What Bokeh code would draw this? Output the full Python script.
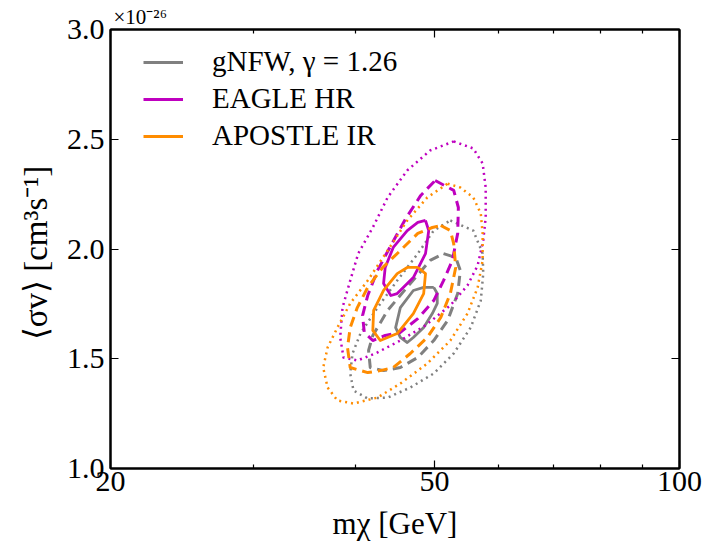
from bokeh.plotting import figure
from bokeh.models import (FixedTicker, PrintfTickFormatter, CustomJSTickFormatter,
                          LinearAxis, LogAxis, Legend, LegendItem, Range1d)
from bokeh.embed import file_html
from bokeh.resources import INLINE

# ---------------- data ----------------
x_major = [20, 50, 100]
x_minor = [30, 40, 60, 70, 80, 90]
y_major = [1.0, 1.5, 2.0, 2.5, 3.0]

series_names = ["gNFW, γ = 1.26", "EAGLE HR", "APOSTLE IR"]
series_colors = ["#808080", "#bf00bf", "#ff8c00"]

# 1 sigma (solid)
gnfw_sol_m = [49.9, 50.4, 50.4, 49.7, 48.5, 47.1, 46.3, 45.4, 44.8, 45.4, 47.1, 48.5]
gnfw_sol_sv = [1.825, 1.797, 1.752, 1.706, 1.642, 1.597, 1.574, 1.597, 1.642, 1.733, 1.811, 1.825]
eagle_sol_m = [48.75, 49.2, 48.75, 47.1, 45.0, 44.2, 43.3, 43.5, 44.5, 46.3, 47.7]
eagle_sol_sv = [2.13, 2.084, 1.979, 1.87, 1.797, 1.788, 1.843, 1.916, 2.007, 2.084, 2.121]
apostle_sol_m = [47.7, 48.75, 48.5, 47.1, 45.0, 42.9, 42.0, 42.1, 43.3, 45.0, 46.3]
apostle_sol_sv = [1.916, 1.888, 1.797, 1.706, 1.615, 1.583, 1.629, 1.72, 1.811, 1.888, 1.916]

# 2 sigma (dashed)
gnfw_dash_m = [51.3, 53.1, 53.8, 53.4, 51.9, 49.9, 47.7, 45.4, 43.3, 41.7, 41.5, 42.0, 43.8, 46.7, 49.4]
gnfw_dash_sv = [1.979, 1.961, 1.902, 1.797, 1.674, 1.583, 1.506, 1.46, 1.446, 1.46, 1.538, 1.606, 1.72, 1.843, 1.948]
eagle_dash_m = [50.1, 52.8, 53.5, 53.4, 52.6, 51.3, 49.9, 47.7, 45.4, 43.5, 42.0, 41.0, 40.8, 41.4, 42.56, 44.2, 46.1, 48.1]
eagle_dash_sv = [2.312, 2.267, 2.189, 2.071, 1.948, 1.856, 1.765, 1.683, 1.62, 1.606, 1.583, 1.62, 1.697, 1.788, 1.902, 2.016, 2.139, 2.244]
apostle_dash_m = [50.9, 52.3, 52.8, 53.1, 52.3, 50.9, 49.0, 46.7, 44.5, 42.9, 41.4, 39.4, 39.1, 39.4, 40.2, 41.4, 43.2, 45.4, 47.7, 49.7]
apostle_dash_sv = [2.107, 2.084, 2.025, 1.916, 1.797, 1.688, 1.597, 1.524, 1.46, 1.446, 1.437, 1.46, 1.551, 1.642, 1.733, 1.825, 1.916, 1.993, 2.071, 2.098]

# 3 sigma (dotted)
gnfw_dot_m = [52.3, 55.8, 57.3, 57.4, 57.0, 55.4, 52.8, 49.9, 46.7, 43.8, 41.4, 39.77, 39.4, 39.66, 40.56, 42.56, 45.0, 47.7, 49.9]
gnfw_dot_sv = [2.13, 2.084, 1.979, 1.888, 1.765, 1.642, 1.524, 1.433, 1.369, 1.323, 1.319, 1.355, 1.433, 1.524, 1.615, 1.733, 1.856, 1.979, 2.084]
eagle_dot_m = [52.8, 55.8, 57.3, 57.8, 57.8, 57.4, 56.5, 54.9, 52.3, 48.75, 45.4, 42.3, 40.2, 38.66, 38.3, 38.55, 39.4, 40.3, 42.0, 43.8, 46.3, 49.4]
eagle_dot_sv = [2.49, 2.458, 2.39, 2.28, 2.144, 2.039, 1.925, 1.834, 1.743, 1.652, 1.583, 1.524, 1.492, 1.506, 1.597, 1.733, 1.856, 1.979, 2.098, 2.235, 2.358, 2.449]
apostle_dot_m = [51.9, 53.8, 55.8, 57.0, 57.3, 57.3, 56.5, 54.9, 52.3, 49.0, 45.4, 42.56, 39.77, 38.0, 36.96, 36.5, 36.96, 38.0, 39.4, 41.4, 43.8, 46.3, 49.0]
apostle_dot_sv = [2.298, 2.28, 2.235, 2.162, 2.071, 1.948, 1.825, 1.706, 1.583, 1.478, 1.387, 1.323, 1.296, 1.31, 1.369, 1.46, 1.551, 1.642, 1.752, 1.856, 1.993, 2.13, 2.235]

x_label = "mχ [GeV]"
y_label = "⟨σv⟩  [cm³s⁻¹]"
offset_label = "×10⁻²⁶"

# ---------------- figure ----------------
SERIF = "Liberation Serif"

p = figure(width=703, height=547, x_axis_type="log",
           x_range=Range1d(20, 100), y_range=Range1d(1.0, 3.0),
           output_backend="svg", toolbar_location=None,
           min_border_left=110, min_border_right=24,
           min_border_top=29, min_border_bottom=79)
p.grid.visible = False
p.outline_line_color = "black"
p.outline_line_width = 2
p.background_fill_color = "white"
p.border_fill_color = "white"

# offset text (x10^-26) above the top-left corner
p.title.text = offset_label
p.title.align = "left"
p.title.text_font = SERIF
p.title.text_font_size = "21px"
p.title.text_font_style = "normal"
p.title.text_color = "black"
p.title.offset = 3
p.title.standoff = 2

def style_axis(ax, ticks, minor, fmt, show_labels, standoff):
    ax.ticker = FixedTicker(ticks=ticks, minor_ticks=minor)
    ax.axis_line_width = 2
    ax.axis_line_color = "black"
    ax.major_tick_in = 8
    ax.major_tick_out = 0
    ax.minor_tick_in = 4
    ax.minor_tick_out = 0
    ax.major_tick_line_width = 1.2
    ax.minor_tick_line_width = 1.2
    ax.major_label_text_font = SERIF
    ax.major_label_text_color = "black"
    if show_labels:
        ax.formatter = PrintfTickFormatter(format=fmt)
        ax.major_label_text_font_size = "30px"
        ax.major_label_standoff = standoff
    else:
        ax.formatter = CustomJSTickFormatter(code="return '';")
        ax.major_label_text_font_size = "1px"
        ax.major_label_standoff = 0

style_axis(p.xaxis[0], x_major, x_minor, "%d", True, 3)
style_axis(p.yaxis[0], y_major, [], "%.1f", True, 6)

p.xaxis[0].axis_label = x_label
p.yaxis[0].axis_label = y_label
for ax, so, fs in ((p.xaxis[0], 12, "31px"), (p.yaxis[0], 10, "33px")):
    ax.axis_label_text_font = SERIF
    ax.axis_label_text_font_size = fs
    ax.axis_label_text_font_style = "normal"
    ax.axis_label_text_color = "black"
    ax.axis_label_standoff = so

top_ax = LogAxis()
style_axis(top_ax, x_major, x_minor, "%d", False, 0)
p.add_layout(top_ax, "above")
right_ax = LinearAxis()
style_axis(right_ax, y_major, [], "%.1f", False, 0)
p.add_layout(right_ax, "right")

def closed(a):
    return list(a) + [a[0]]

groups = [
    (gnfw_dot_m, gnfw_dot_sv, gnfw_dash_m, gnfw_dash_sv, gnfw_sol_m, gnfw_sol_sv),
    (eagle_dot_m, eagle_dot_sv, eagle_dash_m, eagle_dash_sv, eagle_sol_m, eagle_sol_sv),
    (apostle_dot_m, apostle_dot_sv, apostle_dash_m, apostle_dash_sv, apostle_sol_m, apostle_sol_sv),
]

legend_items = []
for (dm, dsv, am, asv, sm, ssv), col, name in zip(groups, series_colors, series_names):
    p.line(closed(dm), closed(dsv), line_color=col, line_width=2.5,
           line_dash="2 4", line_join="round")
    p.line(closed(am), closed(asv), line_color=col, line_width=3,
           line_dash="10 6", line_join="round")
    r = p.line(closed(sm), closed(ssv), line_color=col, line_width=2.8,
               line_join="round")
    legend_items.append(LegendItem(label=name, renderers=[r]))

legend = Legend(items=legend_items, location=(33, 316))
legend.border_line_color = None
legend.background_fill_alpha = 0
legend.label_text_font = SERIF
legend.label_text_font_size = "29px"
legend.label_text_color = "black"
legend.glyph_width = 40
legend.glyph_height = 20
legend.label_height = 20
legend.label_standoff = 29
legend.spacing = 4
legend.padding = 10
legend.margin = 0
p.add_layout(legend)

open("out.html", "w").write(file_html(p, INLINE))
